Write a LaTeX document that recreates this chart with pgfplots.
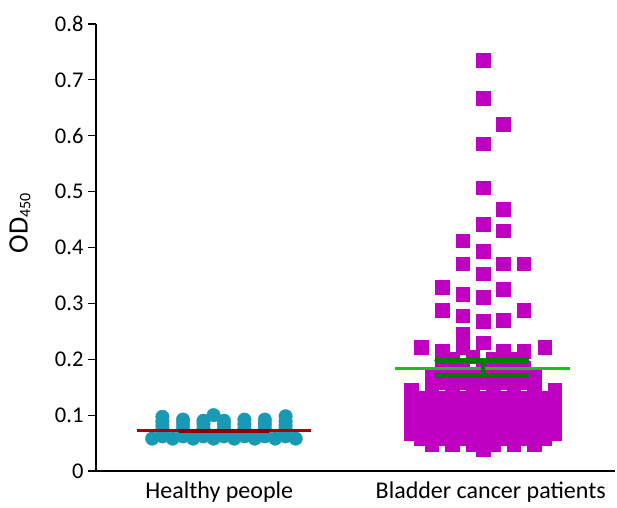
\documentclass[border=0pt]{standalone}
\usepackage{fontspec}
\setmainfont{Carlito}
\usepackage{pgfplots}
\pgfplotsset{compat=1.18}
\definecolor{mag}{RGB}{192,0,192}
\definecolor{teal2}{RGB}{24,154,180}
\definecolor{mred}{RGB}{170,0,0}
\definecolor{dred}{RGB}{140,0,0}
\definecolor{lgreen}{RGB}{30,190,30}
\definecolor{dgreen}{RGB}{0,125,0}
\pgfplotsset{frame/.style={
  at={(96pt,36pt)}, anchor=south west,
  scale only axis, width=519pt, height=447pt,
  xmin=0.506, xmax=2.51, ymin=0, ymax=0.8, clip=false}}
\begin{document}
\begin{tikzpicture}
\path[use as bounding box] (0,0) rectangle (617pt,507pt);
\begin{axis}[
  frame,
  axis x line=bottom, axis y line=left,
  axis line style={-, line width=1.4pt, black},
  ytick={0,0.1,0.2,0.3,0.4,0.5,0.6,0.7,0.8},
  yticklabels={0,0.1,0.2,0.3,0.4,0.5,0.6,0.7,0.8},
  xtick={0.982,2.03},
  xticklabels={Healthy people, Bladder cancer patients},
  tick align=outside,
  y tick style={line width=1.2pt, black},
  x tick style={draw=none},
  major tick length=8pt,
  yticklabel style={font=\fontsize{22.5}{26}\selectfont, xshift=-1pt},
  xticklabel style={font=\fontsize{24}{28}\selectfont, yshift=1pt},
]
% Healthy people
\addplot[only marks, mark=*, mark size=6.8pt, mark options={fill=teal2, draw=teal2, line width=0.3pt}] table {
x y
0.723 0.058
0.802 0.058
0.881 0.058
0.960 0.058
1.040 0.058
1.119 0.058
1.198 0.058
1.277 0.058
0.7625 0.062
0.842 0.062
0.921 0.062
1.000 0.062
1.079 0.062
1.158 0.062
1.238 0.062
0.7625 0.068
0.7625 0.075
0.7625 0.082
0.7625 0.089
0.7625 0.097
0.842 0.068
0.842 0.075
0.842 0.084
0.842 0.092
0.921 0.068
0.921 0.076
0.921 0.084
0.921 0.090
0.960 0.100
1.000 0.068
1.000 0.076
1.000 0.084
1.000 0.090
1.079 0.068
1.079 0.075
1.079 0.084
1.079 0.092
1.158 0.068
1.158 0.075
1.158 0.084
1.158 0.092
1.238 0.068
1.238 0.075
1.238 0.082
1.238 0.089
1.238 0.098
};
% Bladder cancer patients
\addplot[only marks, mark=square*, mark size=6.8pt, mark options={fill=mag, draw=mag, line width=0.3pt}] table {
x y
2.000 0.735
2.000 0.667
2.079 0.621
2.000 0.586
2.000 0.507
2.079 0.469
2.000 0.442
2.079 0.430
1.921 0.4125
2.000 0.394
1.921 0.371
2.079 0.371
2.158 0.371
2.000 0.353
1.842 0.329
2.079 0.326
1.921 0.317
2.000 0.311
1.842 0.288
2.158 0.288
1.921 0.278
2.000 0.268
2.079 0.270
1.921 0.245
1.762 0.222
2.238 0.222
1.842 0.215
1.921 0.222
2.000 0.230
2.079 0.215
2.158 0.215
1.881 0.200
1.960 0.205
2.040 0.200
2.119 0.200
1.842 0.185
1.921 0.185
2.000 0.185
2.079 0.185
2.158 0.185
1.802 0.170
1.881 0.170
1.960 0.170
2.040 0.170
2.119 0.170
2.198 0.170
1.842 0.158
1.921 0.158
2.000 0.158
2.079 0.158
2.158 0.158
1.723 0.145
1.802 0.145
1.881 0.145
1.960 0.145
2.040 0.145
2.119 0.145
2.198 0.145
2.277 0.145
1.762 0.130
1.842 0.130
1.921 0.130
2.000 0.130
2.079 0.130
2.158 0.130
2.238 0.130
1.723 0.118
1.802 0.118
1.881 0.118
1.960 0.118
2.040 0.118
2.119 0.118
2.198 0.118
2.277 0.118
1.762 0.105
1.842 0.105
1.921 0.105
2.000 0.105
2.079 0.105
2.158 0.105
2.238 0.105
1.723 0.092
1.802 0.092
1.881 0.092
1.960 0.092
2.040 0.092
2.119 0.092
2.198 0.092
2.277 0.092
1.762 0.080
1.842 0.080
1.921 0.080
2.000 0.080
2.079 0.080
2.158 0.080
2.238 0.080
1.723 0.068
1.802 0.068
1.881 0.068
1.960 0.068
2.040 0.068
2.119 0.068
2.198 0.068
2.277 0.068
1.762 0.058
1.842 0.058
1.921 0.058
2.000 0.058
2.079 0.058
2.158 0.058
2.238 0.058
1.802 0.048
1.881 0.048
1.960 0.048
2.040 0.048
2.119 0.048
2.198 0.048
2.000 0.038
};
\end{axis}
\begin{axis}[frame, hide axis]
\addplot[mred, line width=3pt] coordinates {(0.663,0.0716) (1.337,0.0716)};
\addplot[dred, line width=4pt] coordinates {(0.826,0.0716) (1.175,0.0716)};
\addplot[lgreen, line width=3pt] coordinates {(1.660,0.184) (2.335,0.184)};
\addplot[dgreen, line width=5pt, line cap=round] coordinates {(1.822,0.198) (2.170,0.198)};
\addplot[dgreen, line width=5pt, line cap=round] coordinates {(1.822,0.171) (2.170,0.171)};
\addplot[dgreen, line width=4pt] coordinates {(2.0,0.171) (2.0,0.198)};
\end{axis}
\node[rotate=90, font=\fontsize{28}{32}\selectfont] at (20pt,284pt) {OD{\fontsize{16}{16}\selectfont\raisebox{-0.35ex}{450}}};
\end{tikzpicture}
\end{document}
